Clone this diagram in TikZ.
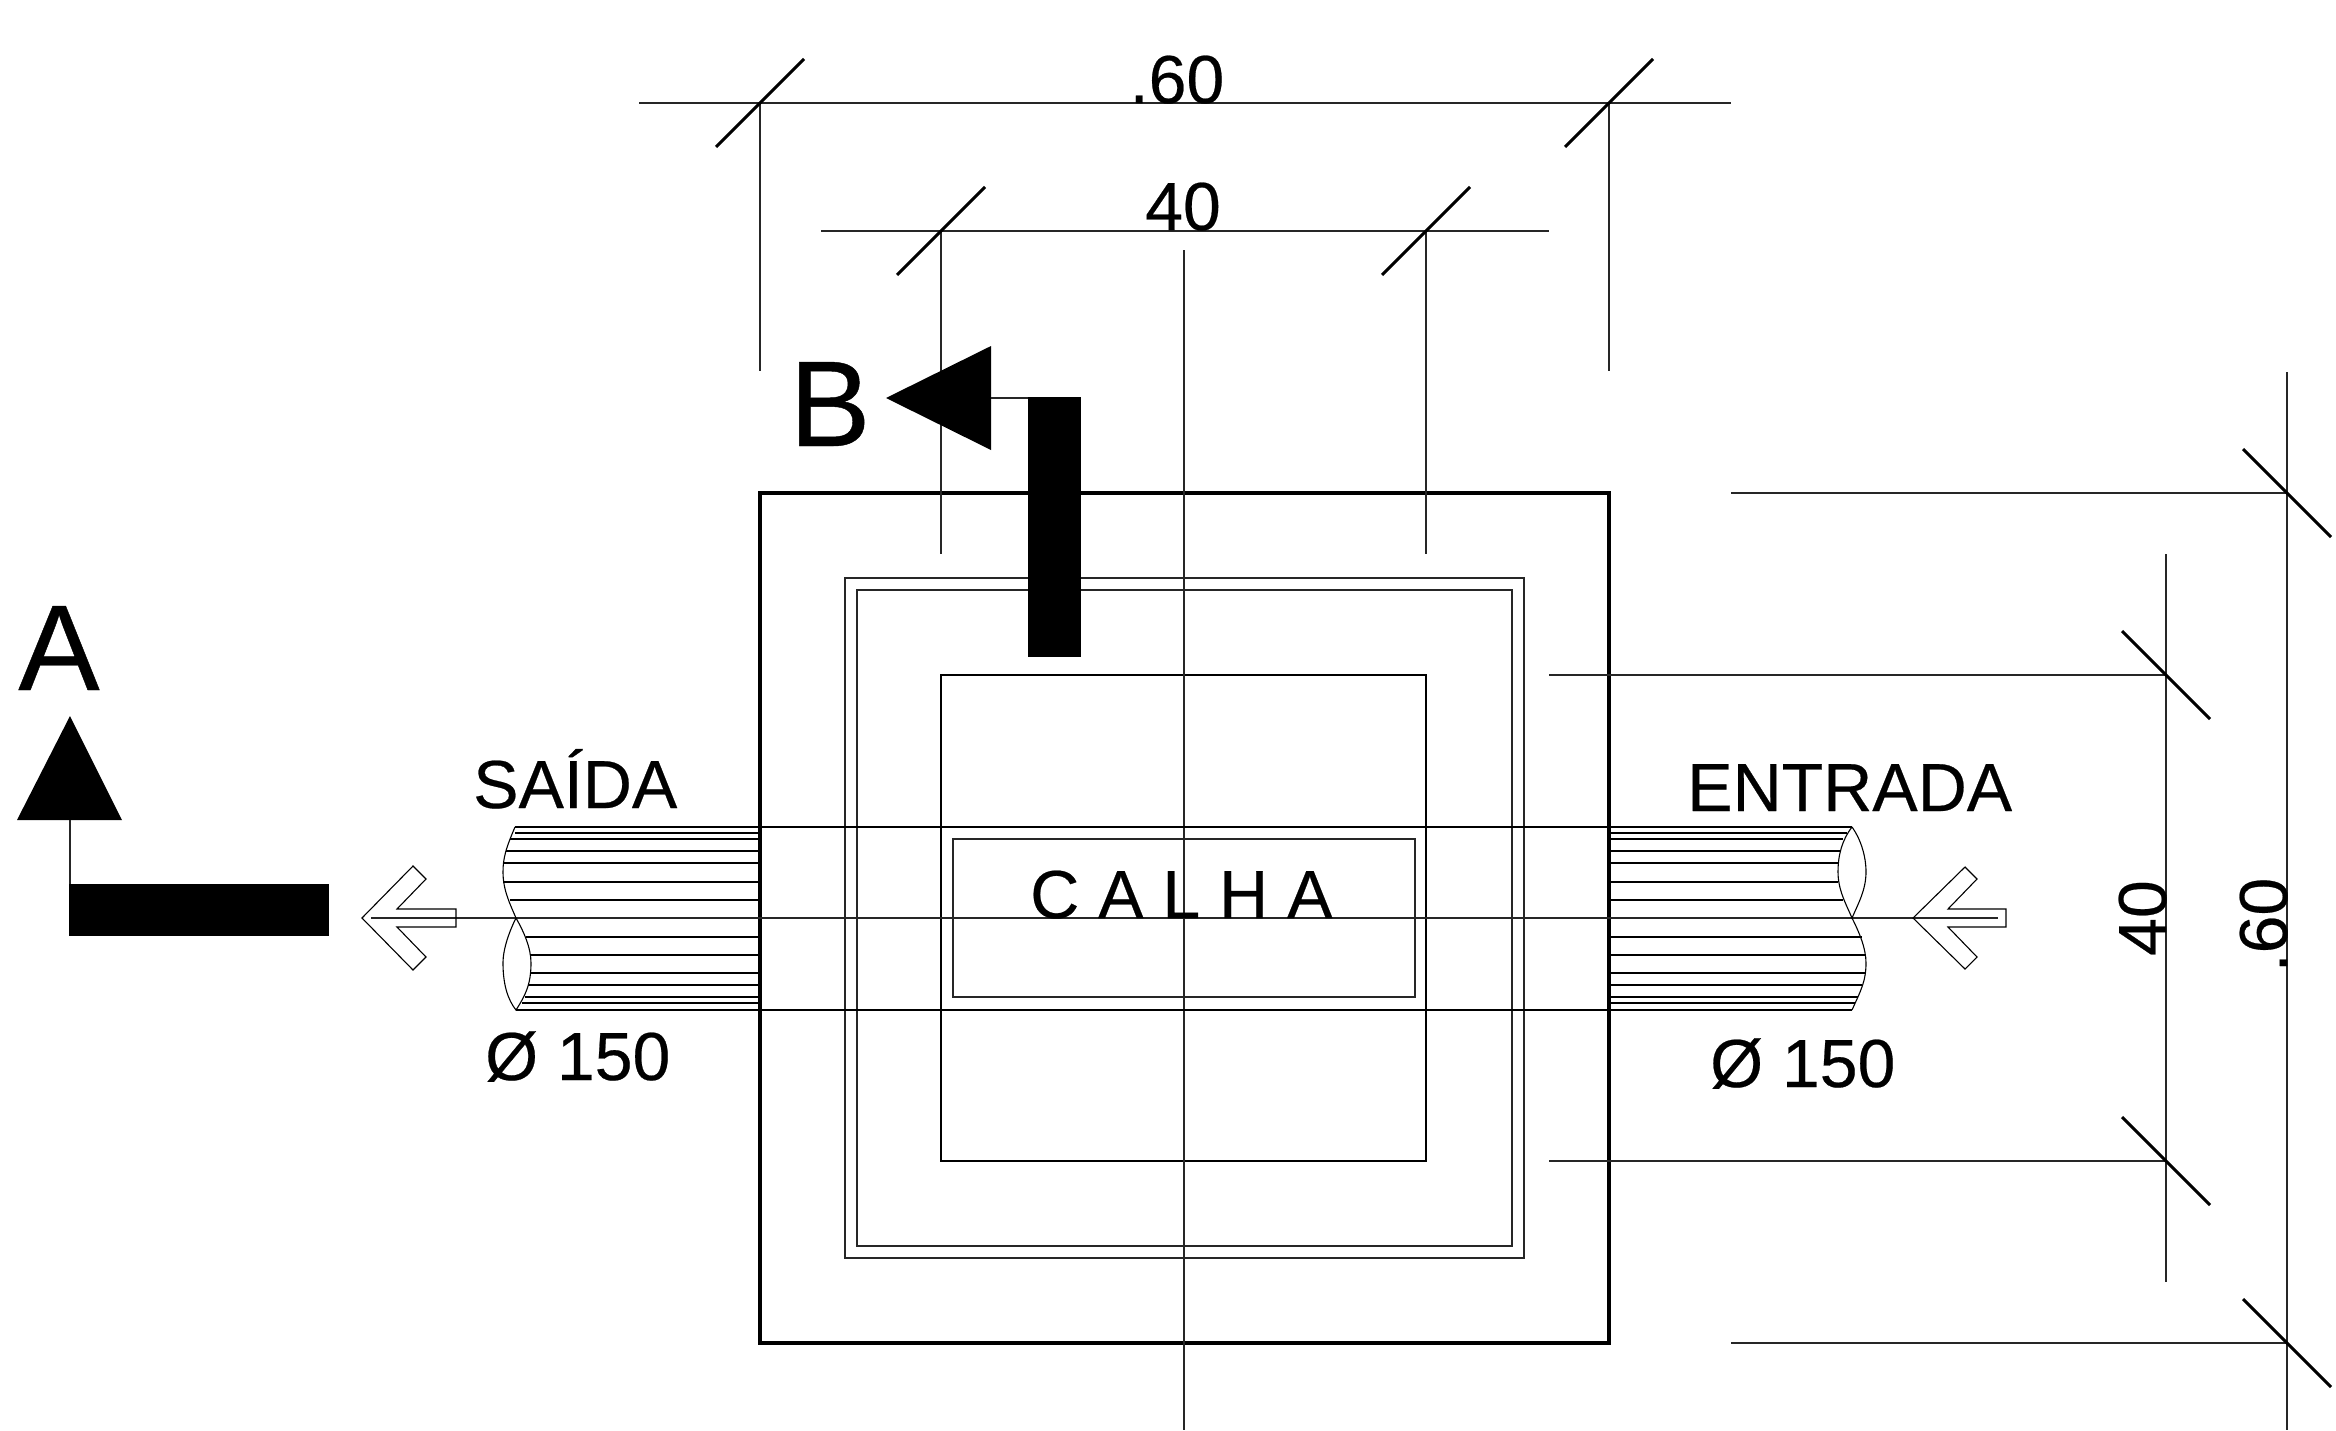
\documentclass[tikz,border=0pt]{standalone}
\usepackage{fontspec}
\setmainfont{Liberation Sans}[FakeBold=0.35]
\newfontface\dimface{Liberation Sans}[FakeBold=0.35]
\begin{document}
\begin{tikzpicture}[
    x=1pt,
    y=-1pt,
    wall/.style={line width=3.2pt},
    thin line/.style={line width=1.1pt,black!85},
    hair/.style={line width=1.1pt},
    tickline/.style={line width=3pt},
    dimtext/.style={inner sep=0pt,font=\dimface\fontsize{68}{68}\selectfont},
    sectionmark/.style={inner sep=0pt,font=\dimface\fontsize{122}{122}\selectfont},
    heavy/.style={fill=black,draw=none}
]
    \useasboundingbox (0,0) rectangle (2336,1430);
    \clip (0,0) rectangle (2336,1430);

    % Box walls
    \draw[wall] (760,493) rectangle (1609,1343);
    \draw[thin line] (845,578) rectangle (1524,1258);
    \draw[thin line] (857,590) rectangle (1512,1246);
    \draw[line width=2pt] (941,675) rectangle (1426,1161);
    \draw[thin line] (953,839) rectangle (1415,997);

    % Axes and pipe edges
    \draw[thin line] (1184,250) -- (1184,1430);
    \draw[thin line] (371,918) -- (1998,918);
    \draw[line width=2pt] (515,827) -- (1852,827);
    \draw[line width=2pt] (516,1010) -- (1852,1010);

    % Pipe hatching
    \foreach \py/\px in {833/515,839/510,851/506,863/503,882/503,900/510,937/526,955/531,973/531,985/528,997/525,1003/522}
        \draw[hair] (\px,\py) -- (760,\py);
    \foreach \py/\px in {833/1847,839/1843,851/1840,863/1838,882/1838,900/1843,937/1862,955/1866,973/1866,985/1862,997/1858,1003/1855}
        \draw[hair] (1609,\py) -- (\px,\py);

    % Pipe ends
    \draw[hair] (515,827) .. controls (506,848) and (503,858) .. (503,872)
        .. controls (503,890) and (510,904) .. (516,918)
        .. controls (524,932) and (531,948) .. (531,963)
        .. controls (531,985) and (525,996) .. (516,1010)
        .. controls (508,1000) and (503,985) .. (503,963)
        .. controls (503,948) and (510,930) .. (516,918);
    \draw[hair] (1852,827) .. controls (1842,840) and (1838,855) .. (1838,872)
        .. controls (1838,890) and (1846,904) .. (1852,918)
        .. controls (1858,904) and (1866,890) .. (1866,872)
        .. controls (1866,855) and (1860,838) .. (1852,827);
    \draw[hair] (1852,918) .. controls (1859,932) and (1866,948) .. (1866,963)
        .. controls (1866,982) and (1860,992) .. (1852,1010);

    % Flow arrows
    \draw[hair] (362,918) -- (413,866) -- (426,879) -- (397,909) -- (456,909)
        -- (456,927) -- (397,927) -- (426,957) -- (413,970) -- cycle;
    \draw[hair] (1913,918) -- (1965,867) -- (1977,879) -- (1948,909) -- (2006,909)
        -- (2006,927) -- (1948,927) -- (1977,957) -- (1965,969) -- cycle;

    % Top dimensions
    \draw[thin line] (639,103) -- (1731,103);
    \draw[thin line] (821,231) -- (1549,231);
    \draw[thin line] (760,103) -- (760,371);
    \draw[thin line] (1609,103) -- (1609,371);
    \draw[thin line] (941,231) -- (941,554);
    \draw[thin line] (1426,231) -- (1426,554);
    \foreach \px/\py in {760/103,1609/103,941/231,1426/231}
        \draw[tickline] (\px-44,\py+44) -- (\px+44,\py-44);

    % Right dimensions
    \draw[thin line] (2287,372) -- (2287,1430);
    \draw[thin line] (2166,554) -- (2166,1282);
    \draw[thin line] (1731,493) -- (2287,493);
    \draw[thin line] (1731,1343) -- (2287,1343);
    \draw[thin line] (1549,675) -- (2166,675);
    \draw[thin line] (1549,1161) -- (2166,1161);
    \foreach \px/\py in {2287/493,2287/1343,2166/675,2166/1161}
        \draw[tickline] (\px-44,\py-44) -- (\px+44,\py+44);

    % Section marks
    \fill[heavy] (1028,397) rectangle (1081,657);
    \fill[heavy] (886,398) -- (991,346) -- (991,450) -- cycle;
    \draw[thin line] (991,398) -- (1028,398);
    \fill[heavy] (69,884) rectangle (329,936);
    \fill[heavy] (70,716) -- (17,820) -- (122,820) -- cycle;
    \draw[thin line] (70,820) -- (70,884);

    \node[sectionmark,anchor=base] (markB) at (830,446) {B};
    \node[sectionmark,anchor=base] (markA) at (59,690) {A};

    \node[dimtext,anchor=base] (dimtop) at (1177,103) {.60};
    \node[dimtext,anchor=base] (dimin) at (1183,230) {40};
    \node[dimtext,anchor=base,rotate=90] (dimright) at (2287,925) {.60};
    \node[dimtext,anchor=base,rotate=90] (dimrightin) at (2166,918) {40};
    \node[dimtext,anchor=base west] (saida) at (473,808) {SAÍDA};
    \node[dimtext,anchor=base west] (entrada) at (1687,811) {ENTRADA};
    \node[dimtext,anchor=base west] (diamleft) at (485,1080) {Ø 150};
    \node[dimtext,anchor=base west] (diamright) at (1710,1087) {Ø 150};
    \node[dimtext,anchor=base west] (calha) at (1030,918) {C A L H A};
\end{tikzpicture}
\end{document}
